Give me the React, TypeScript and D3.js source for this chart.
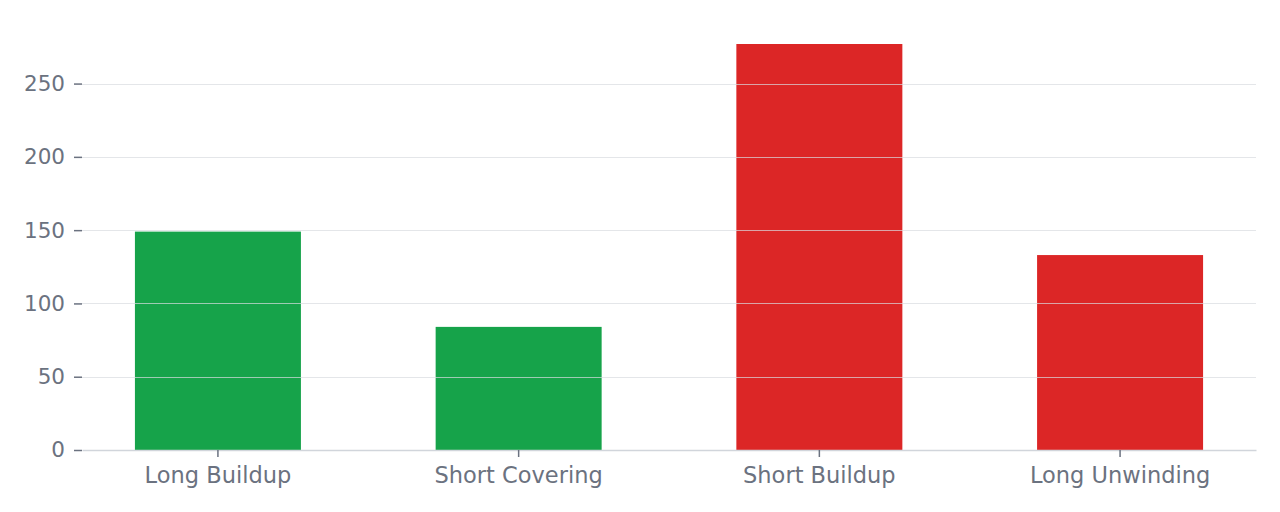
import { useEffect, useRef } from "react";
import * as d3 from "d3";

const categories = ["Long Buildup", "Short Covering", "Short Buildup", "Long Unwinding"];
const counts = [149, 84, 277, 133];
const barColors = ["#16a34a", "#16a34a", "#dc2626", "#dc2626"];
const yTicks = [0, 50, 100, 150, 200, 250];

export default function App() {
    const svgRef = useRef<SVGSVGElement | null>(null);

    useEffect(() => {
        const svg = d3.select(svgRef.current);
        svg.selectAll("*").remove();

        const width = 1280;
        const height = 512;
        const margin = { top: 44, right: 24, bottom: 62, left: 82 };

        svg.attr("width", width).attr("height", height);

        const x = d3.scaleBand()
            .domain(categories)
            .range([margin.left, width - margin.right])
            .paddingInner(0.448)
            .paddingOuter(0.176);

        const y = d3.scaleLinear()
            .domain([0, d3.max(counts)])
            .range([height - margin.bottom, margin.top]);

        const font = "'DejaVu Sans', sans-serif";
        const textColor = "#6b7280";

        // bars
        svg.append("g")
            .selectAll("rect")
            .data(categories)
            .join("rect")
            .attr("x", d => x(d))
            .attr("y", (d, i) => y(counts[i]))
            .attr("width", x.bandwidth())
            .attr("height", (d, i) => y(0) - y(counts[i]))
            .attr("fill", (d, i) => barColors[i]);

        // grid lines sit on top of the bars, semi-transparent
        svg.append("g")
            .selectAll("line")
            .data(yTicks.filter(t => t > 0))
            .join("line")
            .attr("x1", margin.left)
            .attr("x2", width - margin.right)
            .attr("y1", d => Math.round(y(d)) + 0.5)
            .attr("y2", d => Math.round(y(d)) + 0.5)
            .attr("stroke", "#d9dbe0")
            .attr("stroke-opacity", 0.7)
            .attr("stroke-width", 1);

        // y axis
        const yAxis = svg.append("g")
            .attr("transform", `translate(${margin.left},0)`)
            .call(d3.axisLeft(y).tickValues(yTicks).tickSize(8).tickPadding(9));
        yAxis.select(".domain").remove();
        yAxis.selectAll(".tick line").attr("stroke", textColor).attr("stroke-width", 1.5);
        yAxis.selectAll(".tick text")
            .attr("fill", textColor)
            .style("font-family", font)
            .style("font-size", "21.5px");

        // x axis
        const xAxis = svg.append("g")
            .attr("transform", `translate(0,${y(0)})`)
            .call(d3.axisBottom(x).tickSize(7).tickPadding(10).tickSizeOuter(0));
        xAxis.select(".domain")
            .attr("stroke", "#d1d5db")
            .attr("stroke-width", 1.5);
        xAxis.selectAll(".tick line").attr("stroke", textColor).attr("stroke-width", 1.5);
        xAxis.selectAll(".tick text")
            .attr("fill", textColor)
            .style("font-family", font)
            .style("font-size", "22.5px");
    }, []);

    return (
        <svg
            ref={svgRef}
            style={{ position: "absolute", left: 0, top: 0, background: "#ffffff" }}
        />
    );
}
